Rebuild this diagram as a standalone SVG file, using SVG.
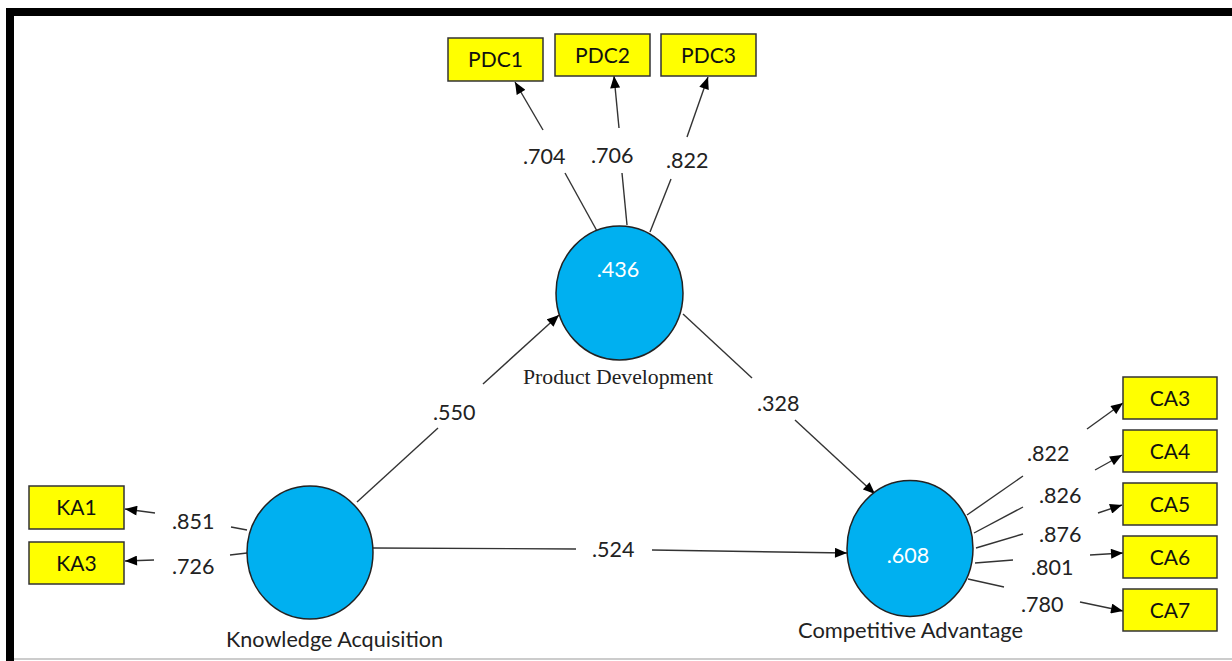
<svg xmlns="http://www.w3.org/2000/svg" width="1232" height="661" viewBox="0 0 1232 661">
  <style>
    .ind { fill: #FFFF00; stroke: #333; stroke-width: 1.5; }
    .lat { fill: #00B0F0; stroke: #222; stroke-width: 1.5; }
    .ind-t { font-family: Lato, "Liberation Sans", sans-serif; font-size: 21px; fill: #111; text-anchor: middle; }
    .num { font-family: Lato, "Liberation Sans", sans-serif; font-size: 21.5px; fill: #222; }
    .r2 { font-family: Lato, "Liberation Sans", sans-serif; font-size: 21.5px; fill: #fff; text-anchor: middle; }
    .name { font-family: Lato, "Liberation Sans", sans-serif; font-size: 21px; fill: #222; }
    .name-serif { font-family: "Liberation Serif", serif; font-size: 21px; fill: #222; }
    .ln { stroke: #333; stroke-width: 1.4; fill: none; }
  </style>
  <defs>
    <marker id="arr" viewBox="0 0 12 10" refX="12" refY="5" markerWidth="13" markerHeight="10" orient="auto" markerUnits="userSpaceOnUse">
      <path d="M0,0 L12,5 L0,10 z" fill="#000"/>
    </marker>
  </defs>

  <rect x="0" y="0" width="1232" height="661" fill="#fff"/>

  <!-- frame -->
  <g id="frame">
    <path d="M10,661 V12 H1232" fill="none" stroke="#000" stroke-width="8"/>
    <line x1="14" y1="659" x2="1232" y2="659" stroke="#bbb" stroke-width="1.5"/>
  </g>

  <!-- connectors -->
  <g id="connectors">
    <!-- Product Development indicators -->
    <line class="ln" x1="597" y1="231" x2="565" y2="173"/>
    <line class="ln" x1="543" y1="130" x2="515" y2="82" marker-end="url(#arr)"/>
    <line class="ln" x1="627" y1="225" x2="622" y2="173"/>
    <line class="ln" x1="619" y1="128" x2="614" y2="76" marker-end="url(#arr)"/>
    <line class="ln" x1="650" y1="232" x2="671" y2="179"/>
    <line class="ln" x1="687" y1="137" x2="708" y2="77" marker-end="url(#arr)"/>

    <!-- Knowledge Acquisition indicators -->
    <line class="ln" x1="247" y1="530" x2="231" y2="527"/>
    <line class="ln" x1="155" y1="513" x2="125" y2="509" marker-end="url(#arr)"/>
    <line class="ln" x1="247" y1="553" x2="230" y2="555"/>
    <line class="ln" x1="154" y1="560" x2="125" y2="561" marker-end="url(#arr)"/>

    <!-- structural paths -->
    <line class="ln" x1="357" y1="502" x2="438" y2="428"/>
    <line class="ln" x1="483" y1="384" x2="559" y2="315" marker-end="url(#arr)"/>
    <line class="ln" x1="683" y1="314" x2="752" y2="378"/>
    <line class="ln" x1="795" y1="420" x2="875" y2="494" marker-end="url(#arr)"/>
    <line class="ln" x1="373" y1="548" x2="576" y2="549"/>
    <line class="ln" x1="652" y1="550" x2="847" y2="553" marker-end="url(#arr)"/>

    <!-- Competitive Advantage indicators -->
    <line class="ln" x1="967" y1="515" x2="1023" y2="476"/>
    <line class="ln" x1="1087" y1="429" x2="1123" y2="403" marker-end="url(#arr)"/>
    <line class="ln" x1="974" y1="533" x2="1023" y2="507"/>
    <line class="ln" x1="1095" y1="470" x2="1122" y2="455" marker-end="url(#arr)"/>
    <line class="ln" x1="976" y1="548" x2="1023" y2="534"/>
    <line class="ln" x1="1098" y1="513" x2="1122" y2="505" marker-end="url(#arr)"/>
    <line class="ln" x1="975" y1="563" x2="1013" y2="560"/>
    <line class="ln" x1="1090" y1="555" x2="1123" y2="553" marker-end="url(#arr)"/>
    <line class="ln" x1="968" y1="579" x2="1004" y2="587"/>
    <line class="ln" x1="1080" y1="602" x2="1123" y2="611" marker-end="url(#arr)"/>

    <!-- path coefficients and loadings -->
    <text class="num" x="523" y="164">.704</text>
    <text class="num" x="591" y="163">.706</text>
    <text class="num" x="666" y="168">.822</text>
    <text class="num" x="172" y="529">.851</text>
    <text class="num" x="172" y="574">.726</text>
    <text class="num" x="433" y="420">.550</text>
    <text class="num" x="757" y="411">.328</text>
    <text class="num" x="592" y="557">.524</text>
    <text class="num" x="1027" y="461">.822</text>
    <text class="num" x="1039" y="503">.826</text>
    <text class="num" x="1039" y="542">.876</text>
    <text class="num" x="1031" y="575">.801</text>
    <text class="num" x="1021" y="612">.780</text>
  </g>

  <!-- latent variables -->
  <g id="product-development">
    <ellipse class="lat" cx="619.5" cy="293" rx="63.5" ry="67"/>
    <text class="r2" x="618" y="277">.436</text>
    <text class="name-serif" x="523" y="384" textLength="190" lengthAdjust="spacingAndGlyphs">Product Development</text>
  </g>
  <g id="knowledge-acquisition">
    <ellipse class="lat" cx="310" cy="552.5" rx="63" ry="66.5"/>
    <text class="name" x="226" y="647" textLength="217" lengthAdjust="spacingAndGlyphs">Knowledge Acquisition</text>
  </g>
  <g id="competitive-advantage">
    <ellipse class="lat" cx="910" cy="548.5" rx="63" ry="68"/>
    <text class="r2" x="908" y="563">.608</text>
    <text class="name" x="798" y="638" textLength="225" lengthAdjust="spacingAndGlyphs">Competitive  Advantage</text>
  </g>

  <!-- indicators -->
  <g id="PDC1"><rect class="ind" x="448" y="38" width="95" height="43"/><text class="ind-t" x="495.5" y="67">PDC1</text></g>
  <g id="PDC2"><rect class="ind" x="555" y="34" width="95" height="42"/><text class="ind-t" x="602.5" y="62.5">PDC2</text></g>
  <g id="PDC3"><rect class="ind" x="661" y="34" width="95" height="42"/><text class="ind-t" x="708.5" y="62.5">PDC3</text></g>
  <g id="KA1"><rect class="ind" x="29" y="486" width="95" height="43"/><text class="ind-t" x="76.5" y="515">KA1</text></g>
  <g id="KA3"><rect class="ind" x="29" y="542" width="95" height="42"/><text class="ind-t" x="76.5" y="570.5">KA3</text></g>
  <g id="CA3"><rect class="ind" x="1123" y="377" width="94" height="42"/><text class="ind-t" x="1170" y="405.5">CA3</text></g>
  <g id="CA4"><rect class="ind" x="1123" y="430" width="94" height="42"/><text class="ind-t" x="1170" y="458.5">CA4</text></g>
  <g id="CA5"><rect class="ind" x="1123" y="483" width="94" height="42"/><text class="ind-t" x="1170" y="511.5">CA5</text></g>
  <g id="CA6"><rect class="ind" x="1123" y="536" width="94" height="42"/><text class="ind-t" x="1170" y="564.5">CA6</text></g>
  <g id="CA7"><rect class="ind" x="1123" y="589" width="94" height="42"/><text class="ind-t" x="1170" y="617.5">CA7</text></g>
</svg>
